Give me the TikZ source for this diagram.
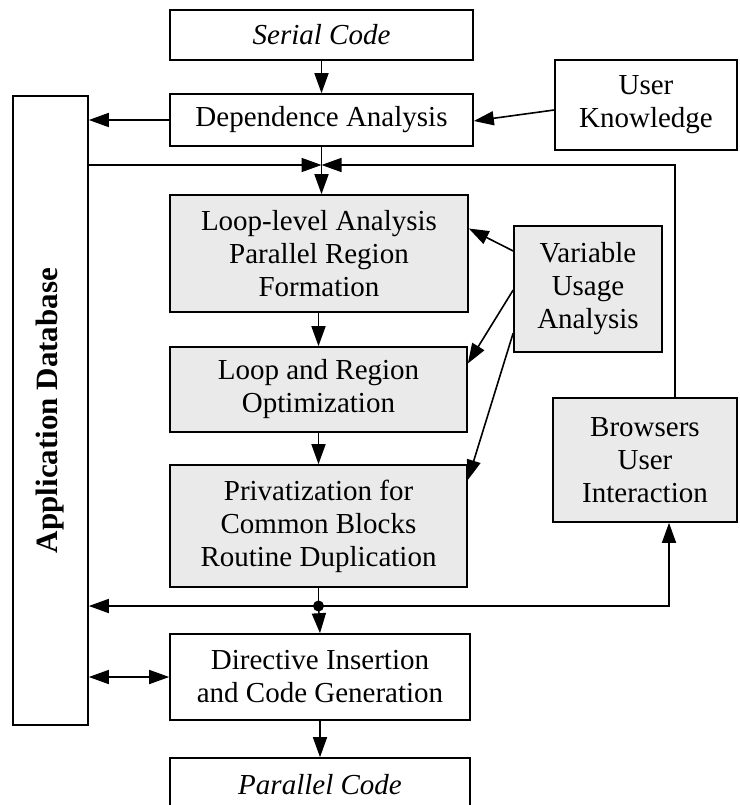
\documentclass[tikz,border=0pt]{standalone}
\usepackage{fontspec}
\setmainfont{Liberation Serif}
\usetikzlibrary{arrows.meta,positioning,calc}
\definecolor{lightgrey}{RGB}{234,234,234}

\begin{document}
\begin{tikzpicture}[
    x=1pt, y=-1pt,
    box/.style={rectangle, draw, line width=1.6pt, inner sep=0pt, align=center,
                font=\fontsize{29}{33}\selectfont},
    gbox/.style={box, fill=lightgrey},
    arr/.style={line width=1.6pt, -{Triangle[length=20pt,width=14pt]}},
    darr/.style={line width=1.6pt, {Triangle[length=20pt,width=14pt]}-{Triangle[length=20pt,width=14pt]}}
]
    \useasboundingbox (0,0) rectangle (739,805);

    % Front end
    \node[box, minimum width=303pt, minimum height=50pt] (serial) at (321.5,35) {\itshape Serial Code};
    \node[box, minimum width=303pt, minimum height=52pt] (dep) at (321.5,120) {Dependence Analysis};
    \node[box, minimum width=182pt, minimum height=90pt] (user) at (646,105) {User\\Knowledge};
    \node[box, minimum width=75pt, minimum height=629pt] (appdb) at (50.5,410.5)
        {\rotatebox{90}{\fontsize{31}{33}\selectfont\bfseries Application Database}};

    % Parallelization passes
    \node[gbox, minimum width=298pt, minimum height=117pt] (loop) at (319,253.5)
        {Loop-level Analysis\\Parallel Region\\Formation};
    \node[gbox, minimum width=297pt, minimum height=85pt] (region) at (318.5,389.5)
        {Loop and Region\\Optimization};
    \node[gbox, minimum width=297pt, minimum height=122pt] (priv) at (318.5,526)
        {Privatization for\\Common Blocks\\Routine Duplication};
    \node[gbox, minimum width=148pt, minimum height=126pt] (vua) at (588,289)
        {Variable\\Usage\\Analysis};
    \node[gbox, minimum width=184pt, minimum height=124pt] (browse) at (645,460)
        {Browsers\\User\\Interaction};

    % Back end
    \node[box, minimum width=300pt, minimum height=86pt] (direct) at (320,677)
        {Directive Insertion\\and Code Generation};
    \node[box, minimum width=300pt, minimum height=54pt] (par) at (320,785) {\itshape Parallel Code};

    \coordinate (jn) at (321.5,165);
    \coordinate (rt) at (675,165);
    \coordinate (dot) at (318.5,606);

    \draw[arr] (serial) -- (dep);
    \draw[arr] (dep.west) -- (dep.west -| appdb.east);
    \draw[arr] ([yshift=-5pt]user.west) -- ([yshift=-1pt]dep.east);
    \draw[arr] (dep.south) -- (dep.south |- loop.north);
    \draw[arr] (appdb.east |- jn) -- (jn);
    \draw[arr] (browse.north -| rt) -- (rt) -- (jn);

    \draw[arr] (loop.south -| region.north) -- (region.north);
    \draw[arr] (region) -- (priv);
    \draw[arr] ([yshift=38pt]vua.west) -- ([yshift=25pt]loop.east);
    \draw[arr] ([yshift=-1pt]vua.west) -- ([yshift=26pt]region.east);
    \draw[arr] ([yshift=-44pt]vua.west) -- ([yshift=46pt]priv.east);

    \draw[line width=1.6pt] (priv.south) -- (dot);
    \draw[arr] (dot) -- (appdb.east |- dot);
    \draw[arr] (dot) -| ([xshift=24pt]browse.south);
    \draw[arr] (dot) -- (direct.north);
    \fill (dot) circle (5.5pt);
    \draw[darr] (appdb.east |- direct.west) -- (direct.west);
    \draw[arr] (direct) -- (par);
\end{tikzpicture}
\end{document}
